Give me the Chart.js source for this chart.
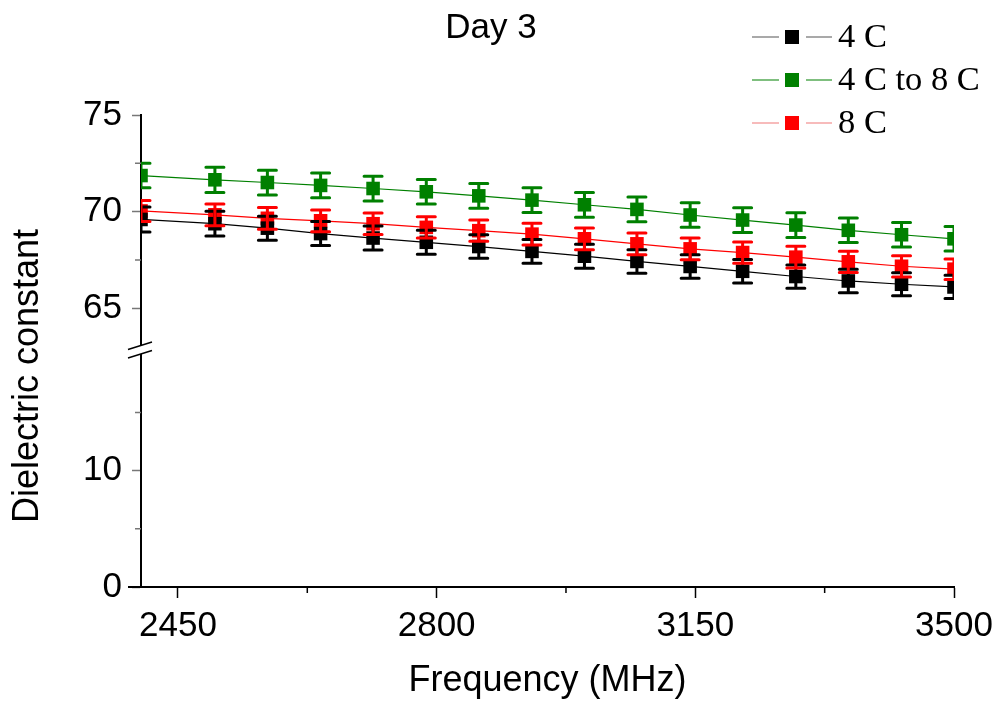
<!DOCTYPE html>
<html>
<head>
<meta charset="utf-8">
<script src="https://cdn.jsdelivr.net/npm/chart.js@4.4.1/dist/chart.umd.min.js"></script>
<style>
  html, body { margin: 0; padding: 0; background: #fff; }
</style>
</head>
<body>
<canvas id="canvas1" width="1003" height="703"></canvas>
<script>
// frequencies (MHz) of the measured points
let freq = [2400, 2500, 2571, 2643, 2714, 2786, 2857, 2929, 3000, 3071, 3143, 3214, 3286, 3357, 3429, 3500];

// dielectric constant for each storage condition, with error bar half-widths
let c4     = [69.60, 69.38, 69.15, 68.87, 68.64, 68.42, 68.20, 67.95, 67.70, 67.43, 67.17, 66.92, 66.65, 66.42, 66.25, 66.11];
let c4err  = [0.65, 0.64, 0.62, 0.62, 0.62, 0.62, 0.61, 0.62, 0.62, 0.61, 0.61, 0.61, 0.60, 0.61, 0.60, 0.60];
let c48    = [71.87, 71.65, 71.51, 71.36, 71.20, 71.03, 70.82, 70.60, 70.36, 70.12, 69.83, 69.57, 69.31, 69.04, 68.81, 68.60];
let c48err = [0.63, 0.65, 0.64, 0.64, 0.64, 0.63, 0.64, 0.64, 0.64, 0.64, 0.63, 0.64, 0.64, 0.63, 0.63, 0.63];
let c8     = [70.04, 69.84, 69.66, 69.53, 69.38, 69.19, 69.02, 68.84, 68.60, 68.34, 68.08, 67.89, 67.65, 67.41, 67.18, 67.03];
let c8err  = [0.54, 0.56, 0.56, 0.56, 0.56, 0.55, 0.55, 0.56, 0.56, 0.56, 0.56, 0.55, 0.56, 0.55, 0.55, 0.53];

let seriesNames  = ['4 C', '4 C to 8 C', '8 C'];
let seriesValues = [c4, c48, c8];
let seriesErrors = [c4err, c48err, c8err];
let seriesColors = ['#000000', '#008000', '#ff0000'];
let legendLineColors = ['#555555', '#008000', '#f07878'];

// tick labels (major) and minor tick marks
let xTicks     = [2450, 2800, 3150, 3500];
let xMinor     = [2625, 2975, 3325];
let yHighTicks = [65, 70, 75];
let yHighMinor = [67.5, 72.5];
let yLowTicks  = [0, 10];
let yLowMinor  = [5, 15];

Chart.defaults.font.family = '"Liberation Sans", Arial, sans-serif';
Chart.defaults.color = '#000';

// build the datasets from the arrays
let datasets = [];
for (let s = 0; s < seriesValues.length; s++) {
  let pts = [];
  for (let i = 0; i < freq.length; i++) {
    pts.push({x: freq[i], y: seriesValues[s][i]});
  }
  datasets.push({
    label: seriesNames[s],
    data: pts,
    xAxisID: 'x',
    yAxisID: 'yHigh',
    borderColor: seriesColors[s],
    backgroundColor: seriesColors[s],
    borderWidth: 1.2,
    pointStyle: 'rect',
    pointRadius: 9.6,
    pointHoverRadius: 9.6,
    pointBorderWidth: 0,
    tension: 0,
    clip: 0
  });
}

// error bars, minor ticks, axis break, y title and legend
let extras = {
  id: 'extras',
  afterDatasetsDraw(chart) {
    let ctx = chart.ctx, a = chart.chartArea;
    let xs = chart.scales.x, ys = chart.scales.yHigh;
    ctx.save();
    ctx.beginPath();
    ctx.rect(a.left, a.top, a.right - a.left, a.bottom - a.top);
    ctx.clip();
    ctx.lineWidth = 3;
    ctx.lineCap = 'round';
    for (let s = 0; s < seriesValues.length; s++) {
      ctx.strokeStyle = seriesColors[s];
      for (let i = 0; i < freq.length; i++) {
        let x  = xs.getPixelForValue(freq[i]);
        let yt = ys.getPixelForValue(seriesValues[s][i] + seriesErrors[s][i]);
        let yb = ys.getPixelForValue(seriesValues[s][i] - seriesErrors[s][i]);
        ctx.beginPath();
        ctx.moveTo(x, yt); ctx.lineTo(x, yb);
        ctx.moveTo(x - 9, yt); ctx.lineTo(x + 9, yt);
        ctx.moveTo(x - 9, yb); ctx.lineTo(x + 9, yb);
        ctx.stroke();
      }
    }
    ctx.restore();
  },
  afterDraw(chart) {
    let ctx = chart.ctx, a = chart.chartArea;
    let xs = chart.scales.x, yh = chart.scales.yHigh, yl = chart.scales.yLow;
    ctx.save();

    // minor ticks
    ctx.lineWidth = 1.5;
    ctx.strokeStyle = '#000';
    ctx.beginPath();
    xMinor.forEach(v => {
      let x = xs.getPixelForValue(v);
      ctx.moveTo(x, a.bottom); ctx.lineTo(x, a.bottom + 6);
    });
    ctx.stroke();
    ctx.strokeStyle = '#777';
    ctx.beginPath();
    yHighMinor.forEach(v => {
      let y = yh.getPixelForValue(v);
      ctx.moveTo(a.left - 6, y); ctx.lineTo(a.left, y);
    });
    yLowMinor.forEach(v => {
      let y = yl.getPixelForValue(v);
      ctx.moveTo(a.left - 6, y); ctx.lineTo(a.left, y);
    });
    ctx.stroke();

    // x axis line runs a little past the y axis
    ctx.strokeStyle = '#000';
    ctx.lineWidth = 2;
    ctx.beginPath();
    ctx.moveTo(a.left - 13, a.bottom); ctx.lineTo(a.left, a.bottom);
    ctx.stroke();

    // axis break marks
    let b = yh.bottom;
    ctx.fillStyle = '#fff';
    ctx.fillRect(a.left - 2, b - 5, 4, 8);
    ctx.lineWidth = 1.4;
    ctx.beginPath();
    ctx.moveTo(a.left - 13, b - 1.5); ctx.lineTo(a.left + 11, b - 9);
    ctx.moveTo(a.left - 13, b + 7);   ctx.lineTo(a.left + 11, b - 0.5);
    ctx.stroke();

    // y axis title
    ctx.fillStyle = '#000';
    ctx.font = '36px "Liberation Sans", Arial, sans-serif';
    ctx.textAlign = 'center';
    ctx.textBaseline = 'middle';
    ctx.translate(28, a.top + 0.553 * (a.bottom - a.top));
    ctx.rotate(-Math.PI / 2);
    ctx.fillText('Dielectric constant', 0, 0);
    ctx.restore();

    // legend: line - square - line, then the name
    ctx.save();
    ctx.font = '34.5px "Liberation Serif", "Times New Roman", serif';
    ctx.textAlign = 'left';
    ctx.textBaseline = 'middle';
    for (let s = 0; s < seriesNames.length; s++) {
      let y = 37 + s * 43;
      ctx.strokeStyle = legendLineColors[s];
      ctx.lineWidth = 1.2;
      ctx.beginPath();
      ctx.moveTo(752, y); ctx.lineTo(779, y);
      ctx.moveTo(806, y); ctx.lineTo(832, y);
      ctx.stroke();
      ctx.fillStyle = seriesColors[s];
      ctx.fillRect(785, y - 7, 14, 14);
      ctx.fillStyle = '#000';
      ctx.fillText(seriesNames[s], 838, y + 1);
    }
    ctx.restore();
  }
};

let yCommon = {
  type: 'linear',
  position: 'left',
  stack: 'dc',
  stackWeight: 1,
  afterFit: s => { s.width = 113; },
  grid: { drawOnChartArea: false, tickLength: 9, tickColor: '#777', tickWidth: 1.5 },
  border: { color: '#000', width: 2 },
  ticks: { color: '#000', font: { size: 35 }, padding: 10, callback: v => String(v) }
};

let options = {
  type: 'line',
  data: { datasets: datasets },
  options: {
    responsive: false,
    animation: false,
    events: [],
    layout: { padding: { left: 28, right: 49, top: 0, bottom: 0 } },
    plugins: {
      legend: { display: false },
      tooltip: { enabled: false },
      title: {
        display: true,
        text: 'Day 3',
        color: '#000',
        font: { size: 35, weight: 'normal' },
        padding: { top: 7, bottom: 66 }
      }
    },
    scales: {
      x: {
        type: 'linear',
        min: 2400,
        max: 3500,
        afterBuildTicks: s => { s.ticks = xTicks.map(v => ({value: v})); },
        afterFit: s => { s.height = 116; },
        grid: { drawOnChartArea: false, tickLength: 11, tickColor: '#000', tickWidth: 1.5 },
        border: { color: '#000', width: 2 },
        ticks: { color: '#000', font: { size: 35 }, padding: 7, maxRotation: 0, autoSkip: false, callback: v => String(v) },
        title: { display: true, text: 'Frequency (MHz)', color: '#000', font: { size: 36 }, padding: { top: 0, bottom: 0 } }
      },
      // lower segment first so that it is stacked below
      yLow: Object.assign({}, yCommon, {
        min: 0, max: 20.3,
        afterBuildTicks: s => { s.ticks = yLowTicks.map(v => ({value: v})); }
      }),
      yHigh: Object.assign({}, yCommon, {
        min: 62.8, max: 75,
        afterBuildTicks: s => { s.ticks = yHighTicks.map(v => ({value: v})); }
      })
    }
  },
  plugins: [extras]
};

let chart = new Chart(document.getElementById('canvas1'), options);
</script>
</body>
</html>
